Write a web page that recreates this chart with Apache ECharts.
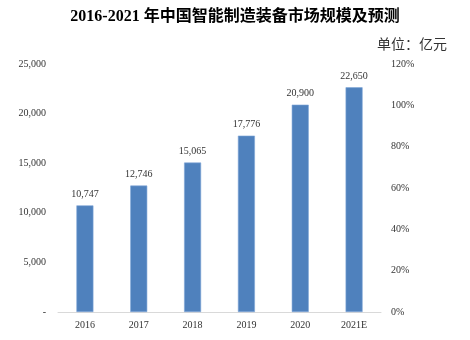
<!DOCTYPE html>
<html><head><meta charset="utf-8">
<script src="https://cdn.jsdelivr.net/npm/echarts@6/dist/echarts.min.js"></script>
<style>html,body{margin:0;padding:0;background:#fff}#c{width:470px;height:340px}</style>
</head><body><div id="c"></div>
<script>
const categories = ['2016','2017','2018','2019','2020','2021E'];
const values = [10747, 12746, 15065, 17776, 20900, 22650];
const leftTicks = [0, 5000, 10000, 15000, 20000, 25000];
const rightTicks = [0, 20, 40, 60, 80, 100, 120];
const title = '2016-2021 年中国智能制造装备市场规模及预测';
const unit = '单位：亿元';

const serif = '"Liberation Serif", "Noto Sans CJK SC", serif';
const fmt = v => v === 0 ? '-' : v.toLocaleString('en-US');
const chart = echarts.init(document.getElementById('c'));
chart.setOption({
  animation: false,
  textStyle: {fontFamily: serif},
  title: [
    {text: title, left: 'center', top: 4,
     textStyle: {fontFamily: serif, fontWeight: 'bold', fontSize: 16, color: '#000'}},
    {text: unit, right: 18, top: 32,
     textStyle: {fontFamily: '"Noto Sans CJK SC", sans-serif', fontWeight: 'normal', fontSize: 14, color: '#333'}}
  ],
  grid: {left: 58, right: 89, top: 64, bottom: 28},
  xAxis: {type: 'category', data: categories,
    axisLine: {lineStyle: {color: '#d9d9d9'}}, axisTick: {show: false},
    axisLabel: {color: '#333', fontSize: 10, fontFamily: serif, margin: 8}},
  yAxis: [
    {type: 'value', min: leftTicks[0], max: leftTicks[leftTicks.length-1], interval: 5000,
     splitLine: {show: false}, axisLine: {show: false}, axisTick: {show: false},
     axisLabel: {color: '#333', fontSize: 10, fontFamily: serif, margin: 12, formatter: fmt}},
    {type: 'value', min: rightTicks[0], max: rightTicks[rightTicks.length-1], interval: 20, position: 'right',
     splitLine: {show: false}, axisLine: {show: false}, axisTick: {show: false},
     axisLabel: {color: '#333', fontSize: 10, fontFamily: serif, margin: 10, formatter: v => v + '%'}}
  ],
  series: [{type: 'bar', data: values, barWidth: 17,
    itemStyle: {color: '#4F81BD', borderColor: '#7FA6D6', borderWidth: 0.6},
    label: {show: true, position: 'top', color: '#333', fontSize: 10, fontFamily: serif, distance: 6,
      formatter: p => p.value.toLocaleString('en-US')}}]
});
</script></body></html>
